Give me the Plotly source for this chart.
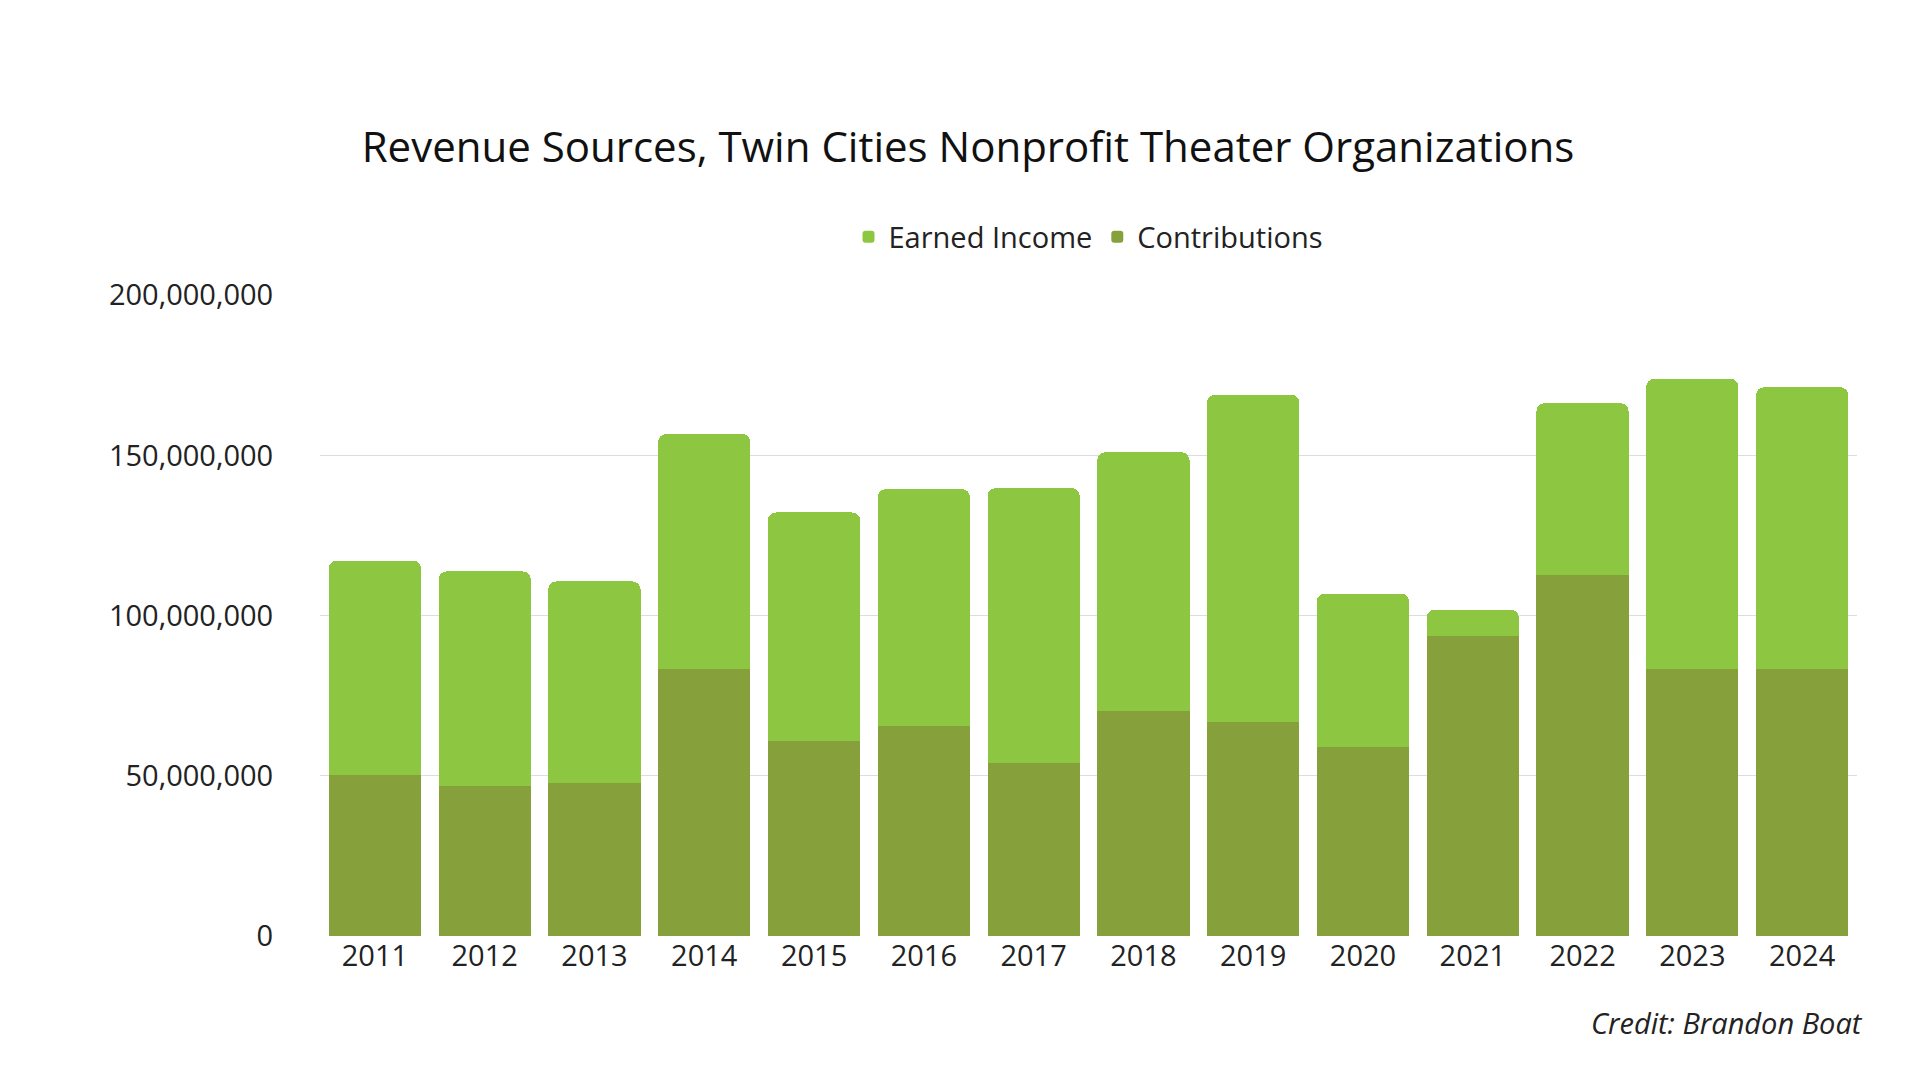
import plotly.graph_objects as go

years = ["2011", "2012", "2013", "2014", "2015", "2016", "2017",
         "2018", "2019", "2020", "2021", "2022", "2023", "2024"]
contributions = [50.2, 46.7, 47.9, 83.5, 60.9, 65.5, 54.0,
                 70.1, 66.7, 59.0, 93.5, 112.6, 83.5, 83.5]  # millions
totals = [117.2, 113.8, 110.7, 156.7, 132.2, 139.5, 139.8,
          151.0, 169.0, 106.9, 101.9, 166.3, 173.9, 171.3]  # millions
earned = [round(t - c, 1) for t, c in zip(totals, contributions)]

fig = go.Figure()
fig.add_trace(go.Bar(x=years, y=[v * 1e6 for v in contributions], name="Contributions",
                     marker=dict(color="#86a13c", line=dict(width=0))))
fig.add_trace(go.Bar(x=years, y=[v * 1e6 for v in earned], name="Earned Income",
                     marker=dict(color="#8dc641", line=dict(width=0))))

fig.update_layout(
    barmode="stack", bargap=0.16, barcornerradius=8,
    width=1920, height=1080, autosize=False,
    margin=dict(l=312, r=71, t=281, b=152),
    paper_bgcolor="white", plot_bgcolor="white",
    font=dict(family="Open Sans", size=29, color="#222222"),
    title=dict(text="Revenue Sources, Twin Cities Nonprofit Theater Organizations",
               x=0.5, xanchor="center", yref="container", y=0.871, yanchor="middle",
               font=dict(family="Open Sans", size=42, color="#111111")),
    legend=dict(orientation="h", x=0.5, xanchor="center", yref="container",
                y=0.788, yanchor="middle", itemsizing="constant",
                font=dict(size=29)),
    xaxis=dict(showgrid=False, ticks="", tickfont=dict(size=29)),
    yaxis=dict(range=[0, 200e6], tickvals=[0, 50e6, 100e6, 150e6, 200e6],
               tickformat=",d", gridcolor="#dddddd", zeroline=False,
               ticks="outside", ticklen=40, tickcolor="white", tickfont=dict(size=29)),
)
fig.add_annotation(text="<i>Credit: Brandon Boat</i>", xref="paper", yref="paper",
                   x=1.005, y=-0.135, xanchor="right", yanchor="middle",
                   showarrow=False, font=dict(size=29, color="#222222"))

fig.write_html("out.html")
